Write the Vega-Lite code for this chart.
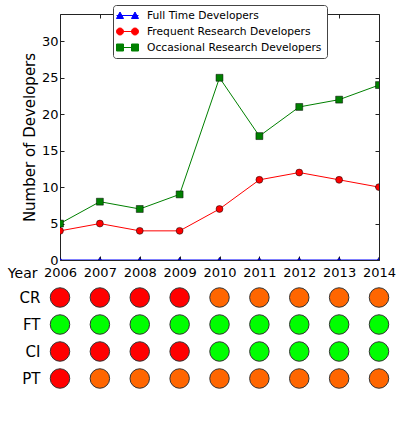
{
  "$schema": "https://vega.github.io/schema/vega-lite/v6.json",
  "padding": {"left": 6, "top": 4, "right": 5, "bottom": 5},
  "background": "white",
  "spacing": 3,
  "config": {
    "font": "DejaVu Sans",
    "view": {"stroke": null},
    "axis": {"labelColor": "black", "titleColor": "black", "titleFontWeight": "normal", "grid": false, "domain": false, "tickColor": "#222", "labelOverlap": false, "labelFlush": false}
  },
  "vconcat": [
    {
      "width": 319,
      "height": 246,
      "view": {"stroke": "#222", "strokeWidth": 1},
      "data": {"values": [
        {"year": 2006, "series": "Full Time Developers", "count": 0},
        {"year": 2007, "series": "Full Time Developers", "count": 0},
        {"year": 2008, "series": "Full Time Developers", "count": 0},
        {"year": 2009, "series": "Full Time Developers", "count": 0},
        {"year": 2010, "series": "Full Time Developers", "count": 0},
        {"year": 2011, "series": "Full Time Developers", "count": 0},
        {"year": 2012, "series": "Full Time Developers", "count": 0},
        {"year": 2013, "series": "Full Time Developers", "count": 0},
        {"year": 2014, "series": "Full Time Developers", "count": 0},
        {"year": 2006, "series": "Frequent Research Developers", "count": 4},
        {"year": 2007, "series": "Frequent Research Developers", "count": 5},
        {"year": 2008, "series": "Frequent Research Developers", "count": 4},
        {"year": 2009, "series": "Frequent Research Developers", "count": 4},
        {"year": 2010, "series": "Frequent Research Developers", "count": 7},
        {"year": 2011, "series": "Frequent Research Developers", "count": 11},
        {"year": 2012, "series": "Frequent Research Developers", "count": 12},
        {"year": 2013, "series": "Frequent Research Developers", "count": 11},
        {"year": 2014, "series": "Frequent Research Developers", "count": 10},
        {"year": 2006, "series": "Occasional Research Developers", "count": 5},
        {"year": 2007, "series": "Occasional Research Developers", "count": 8},
        {"year": 2008, "series": "Occasional Research Developers", "count": 7},
        {"year": 2009, "series": "Occasional Research Developers", "count": 9},
        {"year": 2010, "series": "Occasional Research Developers", "count": 25},
        {"year": 2011, "series": "Occasional Research Developers", "count": 17},
        {"year": 2012, "series": "Occasional Research Developers", "count": 21},
        {"year": 2013, "series": "Occasional Research Developers", "count": 22},
        {"year": 2014, "series": "Occasional Research Developers", "count": 24}
      ]},
      "layer": [
        {
          "mark": {"type": "line", "clip": true, "strokeWidth": 1},
          "encoding": {
            "x": {"field": "year", "type": "quantitative", "scale": {"domain": [2006, 2014], "nice": false, "zero": false},
              "axis": {"values": [2006, 2007, 2008, 2009, 2010, 2011, 2012, 2013, 2014], "format": "d", "labelFontSize": 13, "tickSize": -4, "labelPadding": 10, "title": "Year", "titleFontSize": 14, "titleAlign": "right", "titleBaseline": "top", "titleAnchor": "start", "titleX": -23, "titleY": 6}},
            "y": {"field": "count", "type": "quantitative", "scale": {"domain": [0, 33.75], "nice": false},
              "axis": {"values": [0, 5, 10, 15, 20, 25, 30], "labelFontSize": 13, "tickSize": -4, "labelPadding": 6, "title": "Number of Developers", "titleFontSize": 15, "titlePadding": 4}},
            "color": {"field": "series", "type": "nominal",
              "scale": {"domain": ["Full Time Developers", "Frequent Research Developers", "Occasional Research Developers"], "range": ["#0000ff", "#ff0000", "#008000"]},
              "legend": {
                "orient": "none", "legendX": 53, "legendY": -9, "title": null, "padding": 5,
                "fillColor": "white", "strokeColor": "#444", "cornerRadius": 3, "labelLimit": 0,
                "labelFontSize": 10.7, "labelColor": "black", "symbolSize": 100, "symbolOffset": 4, "labelOffset": 14, "rowPadding": 4,
                "encode": {"symbols": {"update": {
                  "shape": {"signal": "datum.value === 'Full Time Developers' ? 'M-2.2,0L2.2,0M-2.2,0.6L-1.5,-0.7L-0.8,0.6ZM0.8,0.6L1.5,-0.7L2.2,0.6Z' : datum.value === 'Frequent Research Developers' ? 'M-2.2,0L2.2,0M-2.2,0A0.7,0.7 0 1,1 -0.8,0A0.7,0.7 0 1,1 -2.2,0ZM0.8,0A0.7,0.7 0 1,1 2.2,0A0.7,0.7 0 1,1 0.8,0Z' : 'M-2.2,0L2.2,0M-2.2,-0.7H-0.8V0.7H-2.2ZM0.8,-0.7H2.2V0.7H0.8Z'"},
                  "fill": {"signal": "datum.value === 'Full Time Developers' ? '#0000ff' : datum.value === 'Frequent Research Developers' ? '#ff0000' : '#008000'"},
                  "stroke": {"signal": "datum.value === 'Full Time Developers' ? '#0000ff' : datum.value === 'Frequent Research Developers' ? '#ff0000' : '#008000'"},
                  "strokeWidth": {"value": 1},
                  "opacity": {"value": 1}
                }}}
              }}
          }
        },
        {
          "transform": [{"filter": "datum.series === 'Full Time Developers'"}],
          "mark": {"type": "point", "shape": "triangle-up", "filled": true, "clip": true, "stroke": "black", "strokeWidth": 0.5, "opacity": 1, "size": 40},
          "encoding": {
            "x": {"field": "year", "type": "quantitative", "axis": null},
            "y": {"field": "count", "type": "quantitative", "axis": null},
            "color": {"field": "series", "type": "nominal", "legend": null}
          }
        },
        {
          "transform": [{"filter": "datum.series === 'Frequent Research Developers'"}],
          "mark": {"type": "point", "shape": "circle", "filled": true, "clip": true, "stroke": "black", "strokeWidth": 0.5, "opacity": 1, "size": 48},
          "encoding": {
            "x": {"field": "year", "type": "quantitative", "axis": null},
            "y": {"field": "count", "type": "quantitative", "axis": null},
            "color": {"field": "series", "type": "nominal", "legend": null}
          }
        },
        {
          "transform": [{"filter": "datum.series === 'Occasional Research Developers'"}],
          "mark": {"type": "point", "shape": "square", "filled": true, "clip": true, "stroke": "black", "strokeWidth": 0.5, "opacity": 1, "size": 48},
          "encoding": {
            "x": {"field": "year", "type": "quantitative", "axis": null},
            "y": {"field": "count", "type": "quantitative", "axis": null},
            "color": {"field": "series", "type": "nominal", "legend": null}
          }
        },
        {
          "mark": {"type": "point", "opacity": 0},
          "encoding": {
            "x": {"field": "year", "type": "quantitative", "axis": {"orient": "top", "values": [2006, 2007, 2008, 2009, 2010, 2011, 2012, 2013, 2014], "labels": false, "tickSize": -4, "title": null}},
            "y": {"field": "count", "type": "quantitative", "axis": {"orient": "right", "values": [0, 5, 10, 15, 20, 25, 30], "labels": false, "tickSize": -4, "title": null}}
          }
        }
      ],
      "resolve": {"axis": {"x": "independent", "y": "independent"}}
    },
    {
      "width": 319,
      "height": 108,
      "data": {"values": [
        {"year": 2006, "row": "CR", "status": "red"},
        {"year": 2007, "row": "CR", "status": "red"},
        {"year": 2008, "row": "CR", "status": "red"},
        {"year": 2009, "row": "CR", "status": "red"},
        {"year": 2010, "row": "CR", "status": "orange"},
        {"year": 2011, "row": "CR", "status": "orange"},
        {"year": 2012, "row": "CR", "status": "orange"},
        {"year": 2013, "row": "CR", "status": "orange"},
        {"year": 2014, "row": "CR", "status": "orange"},
        {"year": 2006, "row": "FT", "status": "green"},
        {"year": 2007, "row": "FT", "status": "green"},
        {"year": 2008, "row": "FT", "status": "green"},
        {"year": 2009, "row": "FT", "status": "green"},
        {"year": 2010, "row": "FT", "status": "green"},
        {"year": 2011, "row": "FT", "status": "green"},
        {"year": 2012, "row": "FT", "status": "green"},
        {"year": 2013, "row": "FT", "status": "green"},
        {"year": 2014, "row": "FT", "status": "green"},
        {"year": 2006, "row": "CI", "status": "red"},
        {"year": 2007, "row": "CI", "status": "red"},
        {"year": 2008, "row": "CI", "status": "red"},
        {"year": 2009, "row": "CI", "status": "red"},
        {"year": 2010, "row": "CI", "status": "green"},
        {"year": 2011, "row": "CI", "status": "green"},
        {"year": 2012, "row": "CI", "status": "green"},
        {"year": 2013, "row": "CI", "status": "green"},
        {"year": 2014, "row": "CI", "status": "green"},
        {"year": 2006, "row": "PT", "status": "red"},
        {"year": 2007, "row": "PT", "status": "orange"},
        {"year": 2008, "row": "PT", "status": "orange"},
        {"year": 2009, "row": "PT", "status": "orange"},
        {"year": 2010, "row": "PT", "status": "orange"},
        {"year": 2011, "row": "PT", "status": "orange"},
        {"year": 2012, "row": "PT", "status": "orange"},
        {"year": 2013, "row": "PT", "status": "orange"},
        {"year": 2014, "row": "PT", "status": "orange"}
      ]},
      "mark": {"type": "circle", "size": 380, "stroke": "#333", "strokeWidth": 1, "opacity": 1},
      "encoding": {
        "x": {"field": "year", "type": "quantitative", "scale": {"domain": [2006, 2014], "nice": false, "zero": false}, "axis": null},
        "y": {"field": "row", "type": "nominal", "sort": ["CR", "FT", "CI", "PT"], "axis": {"title": null, "ticks": false, "tickSize": 0, "labelPadding": 20, "labelFontSize": 15, "labelColor": "black"}},
        "fill": {"field": "status", "type": "nominal", "scale": {"domain": ["red", "orange", "green"], "range": ["#ff0000", "#ff6600", "#00ff00"]}, "legend": null}
      }
    }
  ]
}
